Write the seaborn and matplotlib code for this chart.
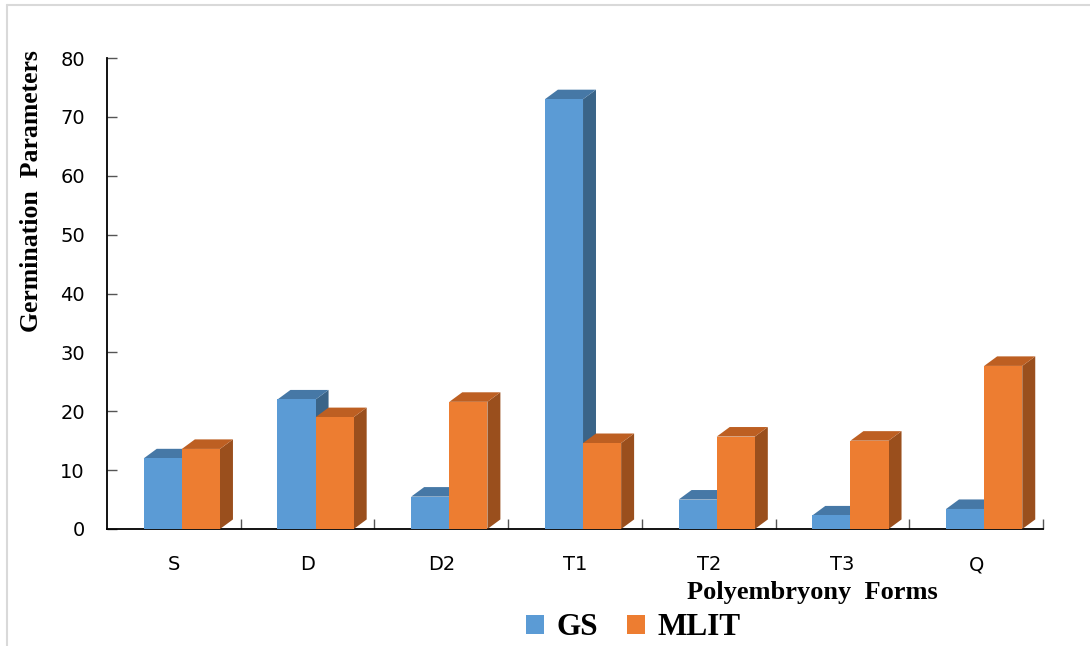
import numpy as np
import pandas as pd
import matplotlib.pyplot as plt
import seaborn as sns
from matplotlib.patches import Polygon, Patch

# Data
forms = ['S', 'D', 'D2', 'T1', 'T2', 'T3', 'Q']
gs = [12.0, 22.0, 5.5, 73.0, 5.0, 2.3, 3.4]
mlit = [13.6, 19.0, 21.6, 14.6, 15.7, 15.0, 27.7]
series = ['GS', 'MLIT']

front = {'GS': '#5B9BD5', 'MLIT': '#ED7D31'}
top = {'GS': '#4678A6', 'MLIT': '#BD5F22'}
side = {'GS': '#3A6488', 'MLIT': '#9A4F1D'}

df = pd.DataFrame({
    'form': forms * 2,
    'value': gs + mlit,
    'series': ['GS'] * len(forms) + ['MLIT'] * len(forms),
})

sns.set_style('white')
plt.rcParams['font.family'] = ['DejaVu Sans']
plt.rcParams['text.color'] = 'black'

fig = plt.figure(figsize=(10.9, 6.46), dpi=100)
ax = fig.add_axes([107 / 1090, 1 - 529 / 646, 936 / 1090, 471 / 646])

sns.barplot(data=df, x='form', y='value', hue='series', palette=front,
            width=0.57, saturation=1, ax=ax, legend=False, zorder=3)

ax.set_xlim(-0.5, 6.5)
ax.set_ylim(0, 80)

# fake 3D depth: top and side faces on each bar
dx, dy = 0.097, 1.62
shift = 0.06
for i, bar in enumerate(ax.patches):
    s = series[i // len(forms)]
    bar.set_x(bar.get_x() + shift)
    bar.set_edgecolor('none')
    x0, w, h = bar.get_x(), bar.get_width(), bar.get_height()
    z = 3 + (i // len(forms))
    bar.set_zorder(z + 0.2)
    ax.add_patch(Polygon([(x0, h), (x0 + w, h), (x0 + w + dx, h + dy), (x0 + dx, h + dy)],
                         closed=True, fc=top[s], ec='none', zorder=z + 0.1, clip_on=False))
    ax.add_patch(Polygon([(x0 + w, 0), (x0 + w + dx, dy), (x0 + w + dx, h + dy), (x0 + w, h)],
                         closed=True, fc=side[s], ec='none', zorder=z, clip_on=False))

sns.despine(ax=ax)
for sp in ['left', 'bottom']:
    ax.spines[sp].set_color('black')
    ax.spines[sp].set_linewidth(1.3)

ax.set_yticks(np.arange(0, 81, 10))
ax.tick_params(axis='y', left=True, direction='in', length=7, width=1, colors='#555555',
               labelcolor='black', labelsize=14, pad=16)
ax.tick_params(axis='x', bottom=True, length=0, labelsize=14, pad=19, labelcolor='black')
ax.set_xticks(np.arange(0.5, 7, 1), minor=True)
ax.tick_params(axis='x', which='minor', bottom=True, direction='in', length=7, width=1,
               colors='#555555')
ax.set_xlabel('')
ax.set_ylabel('')

serif = ['Liberation Serif', 'DejaVu Serif']
fig.text(812 / 1090, 1 - 592 / 646, 'Polyembryony  Forms', ha='center', va='center',
         fontsize=19, fontweight='bold', family=serif, color='black')
fig.text(32 / 1090, 1 - 191 / 646, 'Germination  Parameters', ha='center', va='center',
         rotation=90, fontsize=18.5, fontweight='bold', family=serif, color='black')

handles = [Patch(facecolor=front[s], edgecolor='none') for s in series]
leg = fig.legend(handles, series, loc='center', bbox_to_anchor=(0.581, 0.028), ncol=2,
                 frameon=False, handlelength=0.55, handleheight=0.55, handletextpad=0.4,
                 columnspacing=0.95, prop={'family': serif, 'weight': 'bold', 'size': 22.5})
for t in leg.get_texts():
    t.set_color('black')

# light frame on the left and top edges of the picture
fig.add_artist(plt.Line2D([7 / 1090, 7 / 1090], [0, 1 - 5 / 646], color='#d9d9d9', lw=1.5,
                          transform=fig.transFigure))
fig.add_artist(plt.Line2D([7 / 1090, 1], [1 - 5 / 646, 1 - 5 / 646], color='#d9d9d9', lw=1.5,
                          transform=fig.transFigure))

fig.savefig('out.png', dpi=100)
